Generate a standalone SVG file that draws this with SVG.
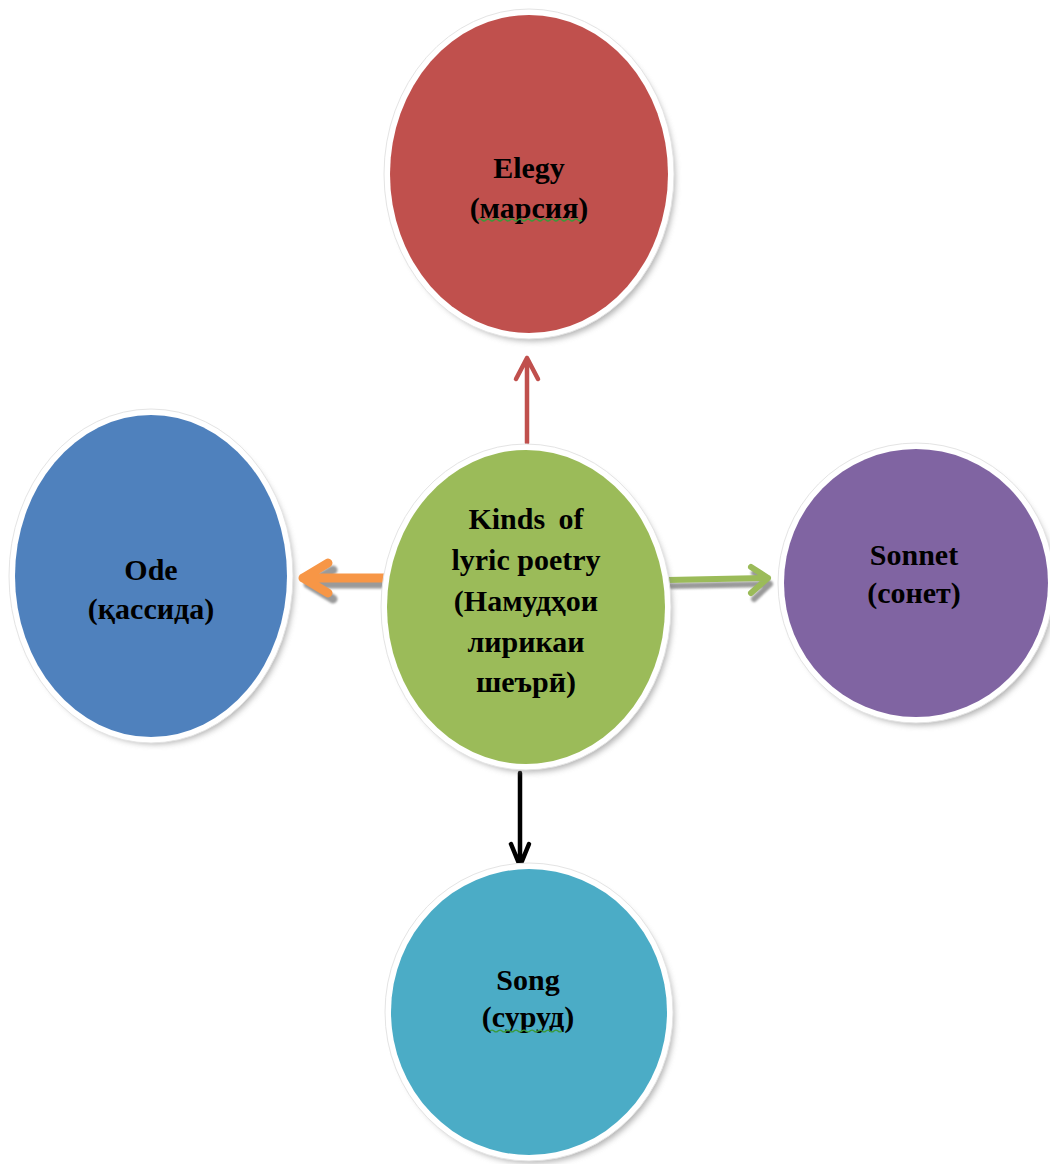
<svg xmlns="http://www.w3.org/2000/svg" width="1050" height="1164" viewBox="0 0 1050 1164">
<defs>
<filter id="sh" x="-20%" y="-20%" width="140%" height="140%"><feGaussianBlur stdDeviation="3"/></filter>
<filter id="ash" x="-20%" y="-50%" width="140%" height="200%"><feGaussianBlur stdDeviation="1.2"/></filter>
</defs>
<style>
.shadow{fill:#7a7a7a;opacity:0.6;filter:url(#sh)}
.rim{fill:#ffffff;stroke:#e4e4e4;stroke-width:1}
.lbl{font-family:"Liberation Serif","Times New Roman",serif;font-weight:bold;font-size:30px;fill:#000;text-anchor:middle}
.sq{fill:none;stroke:#3a9a3a;stroke-width:1.2}
.arr{fill:none;stroke-linecap:round;stroke-linejoin:round}
</style>
<rect width="1050" height="1164" fill="#ffffff"/>
<g id="connectors">
<g id="to-elegy">
<path class="arr" d="M527 443 V358 M516 379 L527 358 L538 379" stroke="#C0504D" stroke-width="4.5"/>
</g>
<g id="to-ode">
<path class="arr" d="M387 581 H305 M330 567 L305 581 L330 596" stroke="#9a9a9a" stroke-width="9" filter="url(#ash)" transform="translate(3,3)"/>
<path class="arr" d="M387 578 H303 M328 563 L303 578 L328 593" stroke="#F79646" stroke-width="9"/>
</g>
<g id="to-sonnet">
<path class="arr" d="M668 583 L768 581 M752 570 L768 581 L752 596" stroke="#9a9a9a" stroke-width="6" filter="url(#ash)" transform="translate(2,3)"/>
<path class="arr" d="M668 580 L768 578 M751 567 L768 578 L751 593" stroke="#9BBB59" stroke-width="6"/>
</g>
<g id="to-song">
<path class="arr" d="M520 773 V866 M511 844 L520 866 L529 844" stroke="#000000" stroke-width="4.5"/>
</g>
</g>
<g id="node-elegy">
<ellipse class="shadow" cx="533" cy="179" rx="142" ry="162"/>
<ellipse class="rim" cx="529" cy="174" rx="145" ry="165"/>
<ellipse cx="529" cy="174" rx="139" ry="159" fill="#C0504D"/>
<text class="lbl" x="529" y="178">Elegy</text>
<text class="lbl" x="529" y="218">(марсия)</text>
<path class="sq" d="M478 220 q2 -2 4 0 t4 0 t4 0 t4 0 t4 0 t4 0 t4 0 t4 0 t4 0 t4 0 t4 0 t4 0 t4 0 t4 0 t4 0 t4 0 t4 0 t4 0 t4 0 t4 0 t4 0 t4 0 t4 0 t4 0 t4 0 t4 0"/>
</g>
<g id="node-ode">
<ellipse class="shadow" cx="155" cy="581" rx="139" ry="163"/>
<ellipse class="rim" cx="151" cy="576" rx="142" ry="167"/>
<ellipse cx="151" cy="576" rx="136" ry="161" fill="#4F81BD"/>
<text class="lbl" x="151" y="580">Ode</text>
<text class="lbl" x="151" y="619">(қассида)</text>
</g>
<g id="node-center">
<ellipse class="shadow" cx="530" cy="612" rx="142" ry="160"/>
<ellipse class="rim" cx="526" cy="607" rx="145" ry="163"/>
<ellipse cx="526" cy="607" rx="139" ry="157" fill="#9BBB59"/>
<text class="lbl" x="526" y="529" word-spacing="6">Kinds of</text>
<text class="lbl" x="526" y="570">lyric poetry</text>
<text class="lbl" x="526" y="611">(Намудҳои</text>
<text class="lbl" x="526" y="652">лирикаи</text>
<text class="lbl" x="526" y="692">шеърӣ)</text>
</g>
<g id="node-sonnet">
<ellipse class="shadow" cx="920" cy="588" rx="135" ry="137"/>
<ellipse class="rim" cx="916" cy="583" rx="138" ry="140"/>
<ellipse cx="916" cy="583" rx="132" ry="134" fill="#8064A2"/>
<text class="lbl" x="914" y="565">Sonnet</text>
<text class="lbl" x="914" y="603">(сонет)</text>
</g>
<g id="node-song">
<ellipse class="shadow" cx="533" cy="1017" rx="141" ry="146"/>
<ellipse class="rim" cx="529" cy="1012" rx="144" ry="149"/>
<ellipse cx="529" cy="1012" rx="138" ry="143" fill="#4BACC6"/>
<text class="lbl" x="528" y="990">Song</text>
<text class="lbl" x="528" y="1027">(суруд)</text>
<path class="sq" d="M490 1031 q2 -2 4 0 t4 0 t4 0 t4 0 t4 0 t4 0 t4 0 t4 0 t4 0 t4 0 t4 0 t4 0 t4 0 t4 0 t4 0 t4 0 t4 0 t4 0"/>
</g>
</svg>
